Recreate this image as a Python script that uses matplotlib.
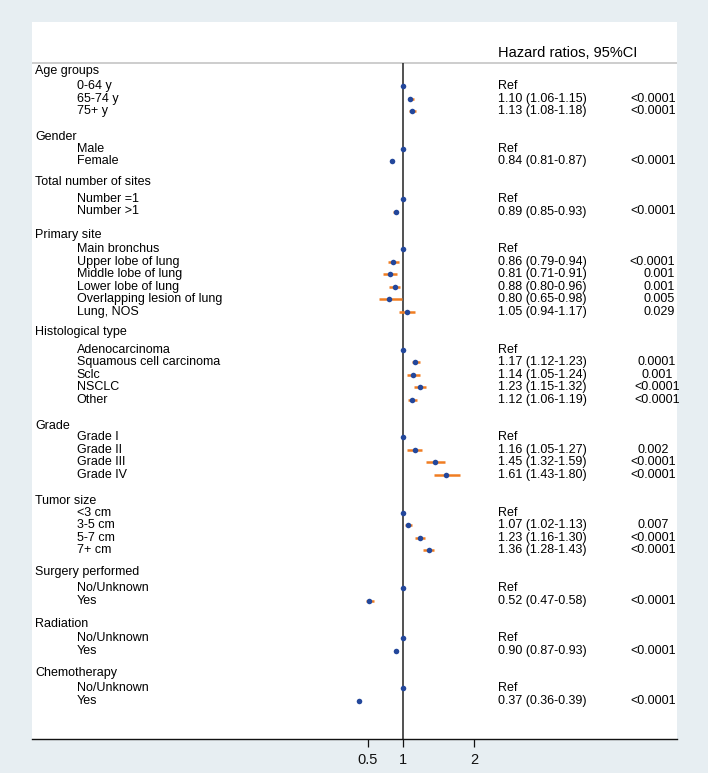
import matplotlib
matplotlib.use("Agg")
import matplotlib.pyplot as plt
from matplotlib.transforms import blended_transform_factory

plt.rcParams['font.family'] = ['Liberation Sans', 'DejaVu Sans']

# ---------------- data ----------------
group_names = ["Age groups", "Gender", "Total number of sites", "Primary site",
               "Histological type", "Grade", "Tumor size", "Surgery performed",
               "Radiation", "Chemotherapy"]
group_sizes = [3, 2, 2, 6, 5, 4, 4, 2, 2, 2]

row_labels = ["0-64 y", "65-74 y", "75+ y",
              "Male", "Female",
              "Number =1", "Number >1",
              "Main bronchus", "Upper lobe of lung", "Middle lobe of lung",
              "Lower lobe of lung", "Overlapping lesion of lung", "Lung, NOS",
              "Adenocarcinoma", "Squamous cell carcinoma", "Sclc", "NSCLC", "Other",
              "Grade I", "Grade II", "Grade III", "Grade IV",
              "<3 cm", "3-5 cm", "5-7 cm", "7+ cm",
              "No/Unknown", "Yes",
              "No/Unknown", "Yes",
              "No/Unknown", "Yes"]
is_ref = [True, False, False,
          True, False,
          True, False,
          True, False, False, False, False, False,
          True, False, False, False, False,
          True, False, False, False,
          True, False, False, False,
          True, False,
          True, False,
          True, False]
hr = [1.00, 1.10, 1.13,
      1.00, 0.84,
      1.00, 0.89,
      1.00, 0.86, 0.81, 0.88, 0.80, 1.05,
      1.00, 1.17, 1.14, 1.23, 1.12,
      1.00, 1.16, 1.45, 1.61,
      1.00, 1.07, 1.23, 1.36,
      1.00, 0.52,
      1.00, 0.90,
      1.00, 0.37]
ci_low = [1.00, 1.06, 1.08,
          1.00, 0.81,
          1.00, 0.85,
          1.00, 0.79, 0.71, 0.80, 0.65, 0.94,
          1.00, 1.12, 1.05, 1.15, 1.06,
          1.00, 1.05, 1.32, 1.43,
          1.00, 1.02, 1.16, 1.28,
          1.00, 0.47,
          1.00, 0.87,
          1.00, 0.36]
ci_high = [1.00, 1.15, 1.18,
           1.00, 0.87,
           1.00, 0.93,
           1.00, 0.94, 0.91, 0.96, 0.98, 1.17,
           1.00, 1.23, 1.24, 1.32, 1.19,
           1.00, 1.27, 1.59, 1.80,
           1.00, 1.13, 1.30, 1.43,
           1.00, 0.58,
           1.00, 0.93,
           1.00, 0.39]
p_values = ["", "<0.0001", "<0.0001",
            "", "<0.0001",
            "", "<0.0001",
            "", "<0.0001", "0.001", "0.001", "0.005", "0.029",
            "", "0.0001", "0.001", "<0.0001", "<0.0001",
            "", "0.002", "<0.0001", "<0.0001",
            "", "0.007", "<0.0001", "<0.0001",
            "", "<0.0001",
            "", "<0.0001",
            "", "<0.0001"]
x_ticks = [0.5, 1, 2]
x_tick_labels = ["0.5", "1", "2"]
header_text = "Hazard ratios, 95%CI"

# ---------------- layout ----------------
group_start_rows = [0, 5, 9, 13, 21, 28, 34, 40, 44, 48]
header_rows = [-1.17, 4.04, 7.63, 11.87, 19.58, 27.09, 33.07, 38.75, 42.89, 46.8]
p_pos = [(0.9636, 'center')] * 10
p_pos[3] = (0.9973, 'right')
p_pos[4] = (0.9690, 'center')

BG = "#e7eef2"
DOT = "#23479b"
ORANGE = "#f07d22"
FS = 9

W, H = 708, 773
fig = plt.figure(figsize=(W / 100, H / 100), dpi=100, facecolor=BG)
left_px, right_px, top_px, bot_px = 32, 676.7, 22, 739.3
ax = fig.add_axes([left_px / W, 1 - bot_px / H, (right_px - left_px) / W, (bot_px - top_px) / H])
ax.set_facecolor("white")

px_per_unit = 70.7
x_at_left = (left_px - 332.6) / px_per_unit
x_at_right = (right_px - 332.6) / px_per_unit
row0_px, row_px = 86.0, 12.55
y_top = (top_px - row0_px) / row_px
y_bot = (bot_px - row0_px) / row_px
ax.set_xlim(x_at_left, x_at_right)
ax.set_ylim(y_bot, y_top)

for s in ["top", "left", "right"]:
    ax.spines[s].set_visible(False)
ax.spines["bottom"].set_linewidth(1.0)
ax.spines["bottom"].set_color("#111111")
ax.set_yticks([])
ax.set_xticks(x_ticks)
ax.set_xticklabels(x_tick_labels, fontsize=10.5)
ax.tick_params(axis='x', direction='out', length=5.5, width=0.9, pad=4.5, colors="#111111")

trans = blended_transform_factory(ax.transAxes, ax.transData)

# header
header_line_row = (63.3 - row0_px) / row_px
ax.axhline(header_line_row, color="#c9c9c9", lw=1.3, zorder=1)
ax.text((498.3 - left_px) / (right_px - left_px), (53.3 - row0_px) / row_px, header_text,
        transform=trans, fontsize=10.5, ha='left', va='center')

# reference line
ax.vlines(1, header_line_row, y_bot, color="#222222", lw=1.1, zorder=2)

# rows
ci_x = (498.3 - left_px) / (right_px - left_px)
idx = 0
for g, (gname, gsize) in enumerate(zip(group_names, group_sizes)):
    ax.text(3 / (right_px - left_px), header_rows[g], gname, transform=trans,
            fontsize=FS, ha='left', va='center')
    px_x, px_ha = p_pos[g]
    for k in range(gsize):
        r = group_start_rows[g] + k
        ax.text(44.7 / (right_px - left_px), r, row_labels[idx], transform=trans,
                fontsize=FS, ha='left', va='center')
        if is_ref[idx]:
            txt = "Ref"
        else:
            txt = f"{hr[idx]:.2f} ({ci_low[idx]:.2f}-{ci_high[idx]:.2f})"
            ax.plot([ci_low[idx], ci_high[idx]], [r, r], color=ORANGE, lw=1.8,
                    solid_capstyle='butt', zorder=3)
        ax.plot(hr[idx], r, 'o', color=DOT, markersize=4.0, markeredgewidth=0, zorder=4)
        ax.text(ci_x, r, txt, transform=trans, fontsize=FS, ha='left', va='center')
        if p_values[idx]:
            ax.text(px_x, r, p_values[idx], transform=trans, fontsize=FS, ha=px_ha, va='center')
        idx += 1

fig.savefig("out.png", dpi=100, facecolor=BG)
